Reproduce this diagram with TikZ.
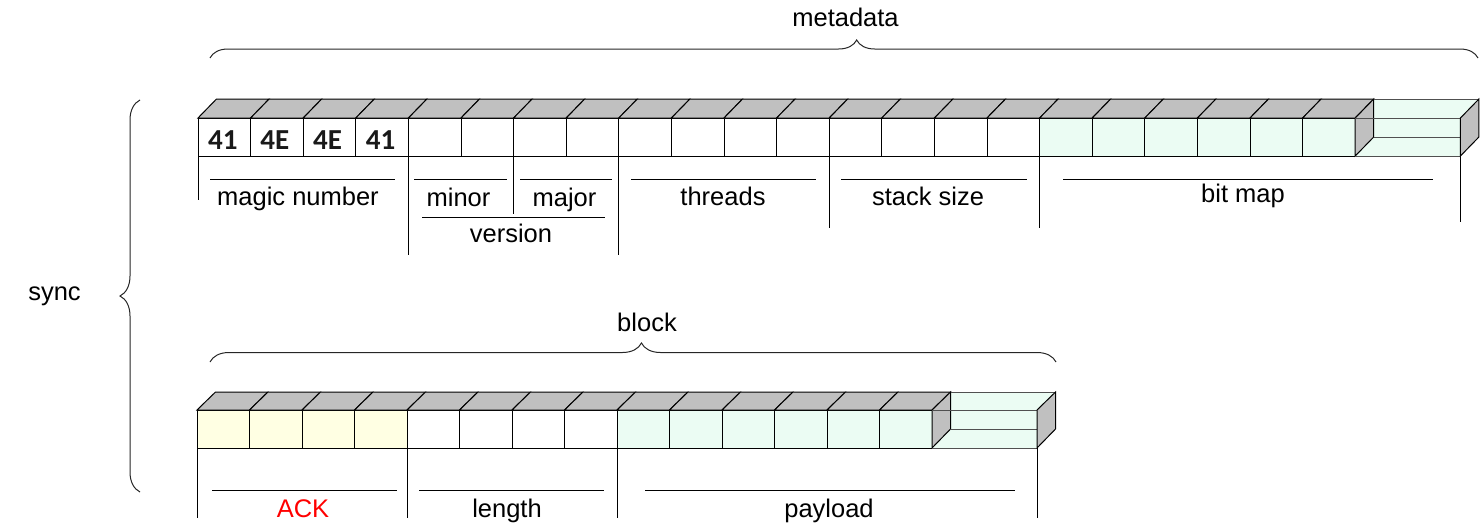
\documentclass[tikz,border=0pt]{standalone}
\usepackage{fontspec}
\setmainfont{Liberation Sans}
\newfontfamily\hexfont{Carlito}
\usetikzlibrary{decorations.pathreplacing}
\definecolor{topgray}{HTML}{C0C0C0}
\definecolor{mint}{HTML}{EBFCF3}
\definecolor{cream}{HTML}{FFFFE3}
\definecolor{ghostline}{HTML}{505050}
\begin{document}
\begin{tikzpicture}[x=1pt,y=-1pt,
  cellbox/.style={draw=black, line width=1pt},
  topface/.style={draw=black, fill=topgray, line width=1pt},
  ghost/.style={draw=ghostline, line width=0.9pt},
  sep/.style={draw=black, line width=1pt},
  lbl/.style={font=\fontsize{25.5}{30}\selectfont, inner sep=0pt, anchor=base},
  hexlbl/.style={font=\hexfont\bfseries\fontsize{29}{32}\selectfont, inner sep=0pt, anchor=base, text=black!90},
  bracestyle/.style={draw=black!85, line width=1pt, decorate},
]
\useasboundingbox (0,0) rectangle (1480,525);

% ---------------- top row (sync metadata) ----------------
\def\w{52.6}
\foreach \i in {0,...,21} {
  \pgfmathsetmacro\xa{198+\i*\w}
  \pgfmathsetmacro\xb{198+(\i+1)*\w}
  \ifnum\i<16
    \filldraw[cellbox, fill=white] (\xa,118) rectangle (\xb,156);
  \else
    \filldraw[cellbox, fill=mint] (\xa,118) rectangle (\xb,156);
  \fi
  \filldraw[topface] (\xa,118) -- ({\xa+18.5},99) -- ({\xb+18.5},99) -- (\xb,118) -- cycle;
}
% translucent continuation
\pgfmathsetmacro\xe{198+22*\w}
\pgfmathsetmacro\xf{198+24*\w}
\fill[mint] (\xe,118) -- ({\xe+18.5},99) -- ({\xf+18.5},99) -- (\xf,118) -- (\xf,156) -- (\xe,156) -- cycle;
\filldraw[topface] (\xe,118) -- ({\xe+18.5},99) -- ({\xe+18.5},137) -- (\xe,156) -- cycle;
\draw[ghost] (\xe,118) -- (\xf,118) (\xe,156) -- (\xf,156)
  ({\xe+18.5},99) -- ({\xf+18.5},99) ({\xe+18.5},137) -- (\xf,137);
\filldraw[topface] (\xf,118) -- ({\xf+18.5},99) -- ({\xf+18.5},137) -- (\xf,156) -- cycle;

\node[hexlbl] (h1) at ({198+0.5*\w-1.5},149) {41};
\node[hexlbl] (h2) at ({198+1.5*\w-2},149) {4E};
\node[hexlbl] (h3) at ({198+2.5*\w-2},149) {4E};
\node[hexlbl] (h4) at ({198+3.5*\w-1.5},149) {41};

% separators and labels, top row
\coordinate (t0a) at (198,156);   \coordinate (t0b) at (198,200);
\coordinate (t1a) at (408.4,156); \coordinate (t1b) at (408.4,255);
\coordinate (t2a) at (513.6,156); \coordinate (t2b) at (513.6,214);
\coordinate (t3a) at (618.8,156); \coordinate (t3b) at (618.8,255);
\coordinate (t4a) at (829.2,156); \coordinate (t4b) at (829.2,228);
\coordinate (t5a) at (1039.6,156);\coordinate (t5b) at (1039.6,228);
\coordinate (t6a) at (1460.4,156);\coordinate (t6b) at (1460.4,222);
\foreach \k in {0,...,6} { \draw[sep] (t\k a) -- (t\k b); }

\draw[sep] (210,179) -- (395,179);
\node[lbl] (magic) at (298,205) {magic number};
\draw[sep] (414,179) -- (507,179);
\node[lbl] (minor) at (458.5,206) {minor};
\draw[sep] (520,179) -- (612,179);
\node[lbl] (major) at (564.5,206) {major};
\draw[sep] (422,217) -- (605,217);
\node[lbl] (version) at (511,242) {version};
\draw[sep] (631,179) -- (816,179);
\node[lbl] (threads) at (723,205) {threads};
\draw[sep] (841,179) -- (1027,179);
\node[lbl] (stack) at (928,205) {stack size};
\draw[sep] (1063,179) -- (1433,179);
\node[lbl] (bitmap) at (1243,202) {bit map};

% ---------------- bottom row (block) ----------------
\def\v{52.5}
\foreach \i in {0,...,13} {
  \pgfmathsetmacro\xa{197+\i*\v}
  \pgfmathsetmacro\xb{197+(\i+1)*\v}
  \ifnum\i<4
    \filldraw[cellbox, fill=cream] (\xa,410) rectangle (\xb,448);
  \else\ifnum\i<8
    \filldraw[cellbox, fill=white] (\xa,410) rectangle (\xb,448);
  \else
    \filldraw[cellbox, fill=mint] (\xa,410) rectangle (\xb,448);
  \fi\fi
  \filldraw[topface] (\xa,410) -- ({\xa+18.5},392) -- ({\xb+18.5},392) -- (\xb,410) -- cycle;
}
\pgfmathsetmacro\ye{197+14*\v}
\pgfmathsetmacro\yf{197+16*\v}
\fill[mint] (\ye,410) -- ({\ye+18.5},392) -- ({\yf+18.5},392) -- (\yf,410) -- (\yf,448) -- (\ye,448) -- cycle;
\filldraw[topface] (\ye,410) -- ({\ye+18.5},392) -- ({\ye+18.5},429) -- (\ye,448) -- cycle;
\draw[ghost] (\ye,410) -- (\yf,410) (\ye,448) -- (\yf,448)
  ({\ye+18.5},392) -- ({\yf+18.5},392) ({\ye+18.5},429) -- (\yf,429);
\filldraw[topface] (\yf,410) -- ({\yf+18.5},392) -- ({\yf+18.5},429) -- (\yf,448) -- cycle;

\coordinate (b0a) at (197,448);  \coordinate (b0b) at (197,518);
\coordinate (b1a) at (407,448);  \coordinate (b1b) at (407,518);
\coordinate (b2a) at (617,448);  \coordinate (b2b) at (617,518);
\coordinate (b3a) at (1037,448); \coordinate (b3b) at (1037,518);
\foreach \k in {0,...,3} { \draw[sep] (b\k a) -- (b\k b); }

\draw[sep] (212,490) -- (397,490);
\node[lbl, text=red] (ack) at (303,517) {ACK};
\draw[sep] (419,490) -- (604,490);
\node[lbl] (length) at (507,517) {length};
\draw[sep] (645,490) -- (1015,490);
\node[lbl] (payload) at (829,517) {payload};

% ---------------- braces ----------------
\coordinate (mdL) at (210,58);  \coordinate (mdR) at (1478,58);
\draw[bracestyle, decoration={brace, amplitude=18, aspect=0.51}] (mdL) -- (mdR);
\node[lbl] (metadata) at (845.5,26) {metadata};

\coordinate (blL) at (210,362); \coordinate (blR) at (1056,362);
\draw[bracestyle, decoration={brace, amplitude=19, aspect=0.51}] (blL) -- (blR);
\node[lbl] (block) at (647,331) {block};

\coordinate (syB) at (140,492); \coordinate (syT) at (140,100);
\draw[bracestyle, decoration={brace, amplitude=20}] (syB) -- (syT);
\node[lbl] (sync) at (54.5,300) {sync};
\end{tikzpicture}
\end{document}
